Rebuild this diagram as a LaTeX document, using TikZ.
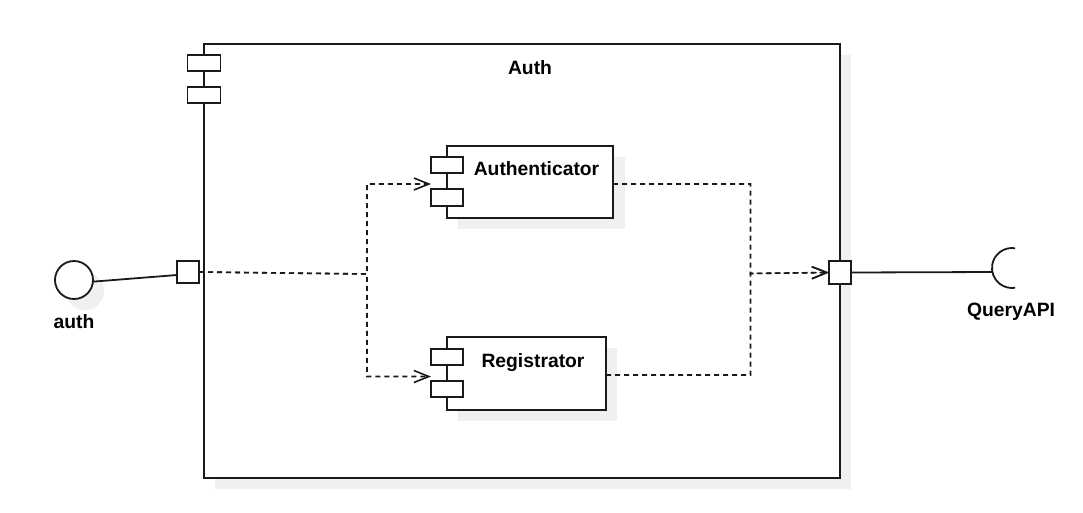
\documentclass[tikz,border=0pt]{standalone}
\usepackage{fontspec}
\setmainfont{Liberation Sans}
\usetikzlibrary{arrows.meta,calc}
\definecolor{shd}{HTML}{F0F0F0}
\definecolor{ln}{HTML}{1A1A1A}
\begin{document}
\begin{tikzpicture}[x=1pt,y=-1pt,
  lbl/.style={font=\fontsize{19.3}{23}\selectfont\bfseries, inner sep=0pt, anchor=base},
  box/.style={draw=ln, line width=1.8pt, fill=white, inner sep=0pt, outer sep=0pt},
  framebox/.style={box, line width=2pt},
  dline/.style={draw=ln, line width=1.6pt, dash pattern=on 5pt off 4pt},
  dep/.style={dline, -{Straight Barb[length=15pt,width=12pt,line width=1.6pt]}},
  conn/.style={draw=ln, line width=1.8pt}
]
\useasboundingbox (0,0) rectangle (1083,512);

% shadows
\fill[shd] (215,55) rectangle (851,489);
\fill[shd] (85,291) circle[radius=19pt];

% frame
\node[framebox, minimum width=636pt, minimum height=434pt] (frame) at (522,261) {};
\node[box, minimum width=33pt, minimum height=16pt] (fh1) at (204,63) {};
\node[box, minimum width=33pt, minimum height=16pt] (fh2) at (204,95) {};
\node[lbl] (title) at (530,74) {Auth};

% Authenticator
\fill[shd] (458,157) rectangle (625,229);
\node[box, minimum width=166pt, minimum height=72pt] (authc) at (530,182) {};
\node[box, minimum width=32pt, minimum height=16.5pt] (ah1) at (447,165) {};
\node[box, minimum width=32pt, minimum height=16.5pt] (ah2) at (447,197.5) {};
\node[lbl] (authct) at (536.5,175) {Authenticator};

% Registrator
\fill[shd] (458,348) rectangle (617,421);
\node[box, minimum width=159pt, minimum height=73pt] (regc) at (526.5,373.5) {};
\node[box, minimum width=32pt, minimum height=16pt] (rh1) at (447,357) {};
\node[box, minimum width=32pt, minimum height=16pt] (rh2) at (447,389) {};
\node[lbl] (regct) at (533,367.3) {Registrator};

% ports
\node[box, minimum width=22pt, minimum height=22pt] (lport) at (188,272) {};
\node[box, minimum width=22pt, minimum height=23pt] (rport) at (840,272.5) {};

% provided interface
\node[box, circle, minimum size=38pt] (circ) at (74,280) {};
\node[lbl] (authl) at (74,328) {auth};
\draw[conn] (circ.-5) -- ($(lport.west)+(0,3)$);

% required interface
\coordinate (qa) at (992.4,272);
\draw[conn] (rport.east) -- (qa);
\draw[conn] (1015.1,248.25) arc[start angle=81, end angle=279, radius=20pt];
\node[lbl] (qapi) at (1011,316.7) {QueryAPI};

% dependency connectors
\coordinate (lj) at (367,274);
\coordinate (a1in) at (431,184);
\coordinate (a2in) at (431,376.5);
\coordinate (rj) at (750.5,273.5);
\draw[dep] (lport.east) -- (lj) |- (a1in);
\draw[dep] (lport.east) -- (lj) |- (a2in);
\draw[dep] (authc.east |- a1in) -| (rj) -- (rport.west);
\draw[dep] (regc.east |- 0,375) -| (rj) -- (rport.west);
\end{tikzpicture}
\end{document}
